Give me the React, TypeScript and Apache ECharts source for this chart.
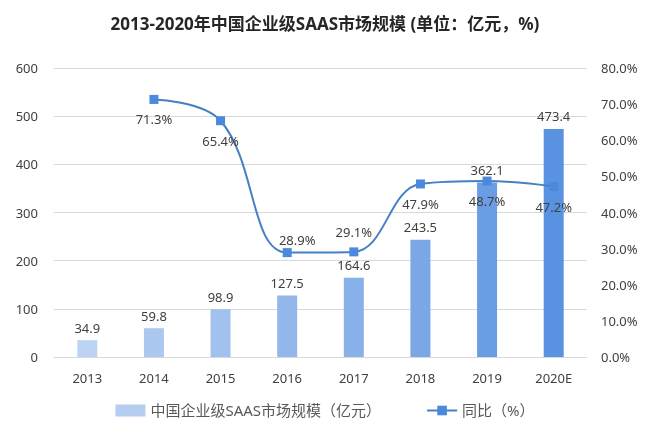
import React, { useEffect, useRef } from "react";
import * as echarts from "echarts";

const categories = ["2013", "2014", "2015", "2016", "2017", "2018", "2019", "2020E"];
const marketSize = [34.9, 59.8, 98.9, 127.5, 164.6, 243.5, 362.1, 473.4];
const growth = [null, 71.3, 65.4, 28.9, 29.1, 47.9, 48.7, 47.2];
const barColors = ["#bcd3f3", "#abc8f0", "#a2c1ee", "#93b7eb", "#88b0e9", "#7ba7e7", "#6b9de5", "#5892e1"];
const growthLabelPos = ["bottom", "bottom", "bottom", "top", "top", "bottom", "bottom", "bottom"];
const leftTicks = [0, 100, 200, 300, 400, 500, 600];

const FONT = "'Noto Sans', 'Noto Sans CJK SC', sans-serif";

export default function App() {
  const ref = useRef<HTMLDivElement>(null);
  useEffect(() => {
    const chart = echarts.init(ref.current!, null, { renderer: "svg" });
    chart.setOption({
      animation: false,
      textStyle: { fontFamily: FONT },
      title: {
        text: "2013-2020年中国企业级SAAS市场规模 (单位：亿元，%)",
        left: "center",
        top: 10,
        textStyle: { fontSize: 17, fontWeight: "bold", color: "#262626", fontFamily: FONT },
      },
      legend: {
        bottom: 25,
        left: "center",
        itemGap: 45,
        itemWidth: 30,
        itemHeight: 12,
        textStyle: { fontSize: 15, color: "#595959", fontFamily: FONT },
        data: [
          { name: "中国企业级SAAS市场规模（亿元）", icon: "rect", itemStyle: { color: "#b4cdf0" } },
          { name: "同比（%）" },
        ],
      },
      grid: { left: 54, right: 63, top: 68, bottom: 91, containLabel: false },
      xAxis: {
        type: "category",
        data: categories,
        axisLine: { lineStyle: { color: "#d9d9d9" } },
        axisTick: { show: false },
        axisLabel: { color: "#404040", fontSize: 13, margin: 14, fontFamily: FONT },
      },
      yAxis: [
        {
          type: "value",
          min: leftTicks[0],
          max: leftTicks[leftTicks.length - 1],
          interval: 100,
          axisLine: { show: false },
          axisTick: { show: false },
          splitLine: { lineStyle: { color: "#d9d9d9" } },
          axisLabel: { color: "#404040", fontSize: 13, margin: 16, fontFamily: FONT },
        },
        {
          type: "value",
          min: 0,
          max: 80,
          interval: 10,
          axisLine: { show: false },
          axisTick: { show: false },
          splitLine: { show: false },
          axisLabel: {
            color: "#404040",
            fontSize: 13,
            margin: 14,
            fontFamily: FONT,
            formatter: (v: number) => v.toFixed(1) + "%",
          },
        },
      ],
      series: [
        {
          name: "中国企业级SAAS市场规模（亿元）",
          type: "bar",
          barWidth: 20,
          data: marketSize.map((v, i) => ({ value: v, itemStyle: { color: barColors[i] } })),
          label: { show: true, position: "top", distance: 6, color: "#404040", fontSize: 13, fontFamily: FONT },
        },
        {
          name: "同比（%）",
          type: "line",
          yAxisIndex: 1,
          smooth: 0.4,
          symbol: "rect",
          symbolSize: 9,
          lineStyle: { color: "#4580c4", width: 2 },
          itemStyle: { color: "#4a89dc" },
          data: growth.map((v, i) => ({
            value: v,
            label: {
              show: v !== null,
              position: growthLabelPos[i],
              distance: i === 3 ? 2 : 9,
              offset: i === 3 ? [10, 0] : [0, 0],
              formatter: (p: any) => p.value.toFixed(1) + "%",
              color: "#404040",
              fontSize: 13,
              fontFamily: FONT,
            },
          })),
        },
      ],
    });
    return () => chart.dispose();
  }, []);
  return <div ref={ref} style={{ position: "fixed", left: 0, top: 0, width: 650, height: 448 }} />;
}
